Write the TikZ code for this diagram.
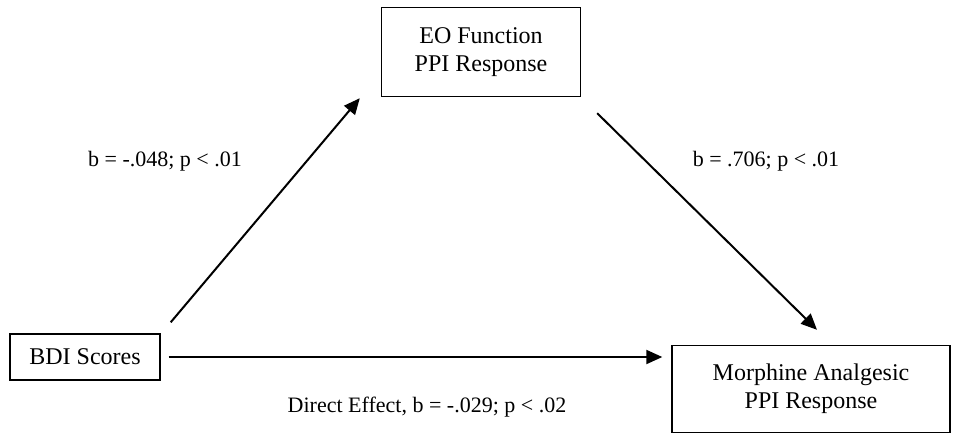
\documentclass[tikz,border=0pt]{standalone}
\usepackage{fontspec}
\setmainfont{Liberation Serif}
\usetikzlibrary{arrows.meta,calc}

\tikzset{
  varbox/.style={draw, line width=0.7pt, align=center, font=\fontsize{12}{14}\selectfont, inner sep=0pt},
  coef/.style={font=\fontsize{11}{13}\selectfont, inner sep=0pt},
  path/.style={line width=1pt, -{Triangle[length=8pt,width=7pt]}}
}

\begin{document}
\begin{tikzpicture}[x=0.5pt,y=-0.5pt]
\useasboundingbox (0,0) rectangle (954,435);

\node[varbox, minimum width=99.5pt, minimum height=44.5pt] (eo) at (481,52) {EO Function\\PPI Response};
\node[varbox, minimum width=75pt, minimum height=23pt] (bdi) at (85,357) {BDI Scores};
\node[varbox, minimum width=139pt, minimum height=43.5pt] (morph) at (811,389) {Morphine Analgesic\\PPI Response};

\node[coef] (ab) at (165,161) {b = -.048; p < .01};
\node[coef] (bc) at (766,161) {b = .706; p < .01};
\node[coef] (ac) at (427,407) {Direct Effect, b = -.029; p < .02};

\draw[path] ($(bdi.north east)+(10,-11)$) -- ($(eo.south west)+(-21,1)$);
\draw[path] ($(eo.south east)+(16,16)$) -- ($(morph.north)+(6,-15)$);
\draw[path] ($(bdi.east)+(8,0)$) -- ($(morph.west |- bdi.east)+(-9,0)$);
\end{tikzpicture}
\end{document}
